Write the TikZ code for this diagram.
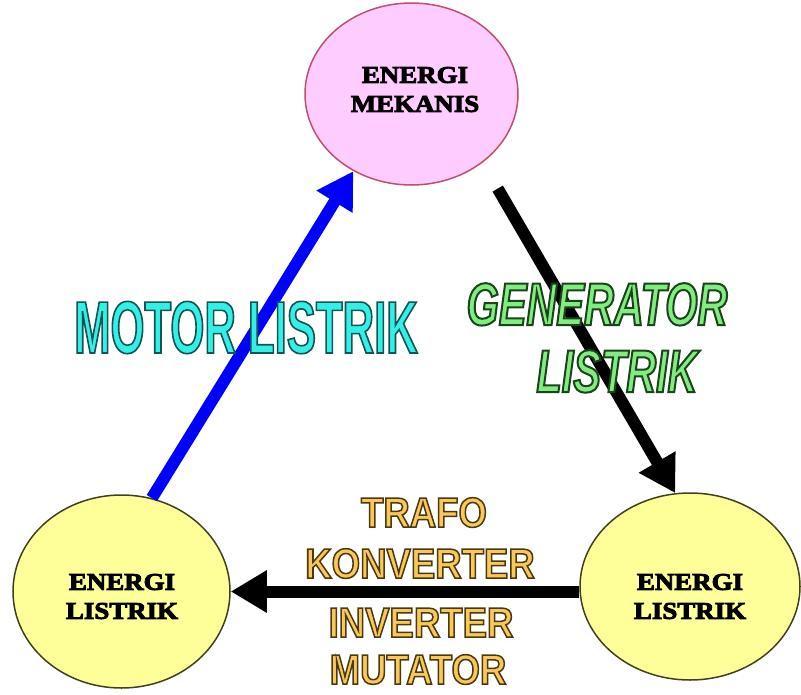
\documentclass[tikz,border=0pt]{standalone}
\usepackage{fontspec}
\usetikzlibrary{shapes.geometric}
\usetikzlibrary{arrows.meta}

\newfontfamily\energifont[FakeStretch=1.12]{Liberation Serif}
\newfontfamily\motorfont[FakeStretch=0.59]{Liberation Sans}
\newfontfamily\generatorfont[FakeStretch=0.69]{Liberation Sans}
\newfontfamily\trafofont[FakeStretch=0.87]{Liberation Sans}

\definecolor{pinkfill}{RGB}{255,204,255}
\definecolor{pinkline}{RGB}{192,80,112}
\definecolor{yellowfill}{RGB}{255,255,153}
\definecolor{yellowline}{RGB}{64,64,32}
\definecolor{motorcyan}{RGB}{50,240,230}
\definecolor{generatorgreen}{RGB}{130,235,130}
\definecolor{trafogold}{RGB}{248,200,90}

% #1 stroke colour (r g b), #2 stroke width, #3 text
\newcommand\outlined[3]{\special{pdf:code q 2 Tr #2 w #1 RG}#3\special{pdf:code Q}}

\begin{document}
\begin{tikzpicture}[x=1pt,y=-1pt]

\tikzset{my-ellipse/.style={ellipse, draw, line width=1.5pt, inner sep=0pt},
         my-energi/.style={align=center, inner sep=0pt,
                           font=\energifont\bfseries\fontsize{24}{29}\selectfont},
         my-arrow/.style={line width=12pt, -{Triangle[length=36pt,width=40pt]}},
         my-label/.style={inner sep=0pt, anchor=base}}

\useasboundingbox (0,0) rectangle (801,694);

\node (mekanis) [my-ellipse, fill=pinkfill, draw=pinkline,
                 minimum width=213pt, minimum height=182pt] at (411.5,94) {};
\node (listrikL) [my-ellipse, fill=yellowfill, draw=yellowline,
                  minimum width=217pt, minimum height=193pt] at (121.5,591.5) {};
\node (listrikR) [my-ellipse, fill=yellowfill, draw=yellowline,
                  minimum width=220pt, minimum height=187pt] at (690,586.5) {};

\node (mekanis-text) [my-energi] at (415,89.5)
  {\outlined{0 0 0}{0.9}{ENERGI}\\\outlined{0 0 0}{0.9}{MEKANIS}};
\node (listrikL-text) [my-energi] at (122,596.5)
  {\outlined{0 0 0}{0.9}{ENERGI}\\\outlined{0 0 0}{0.9}{LISTRIK}};
\node (listrikR-text) [my-energi] at (690,596.5)
  {\outlined{0 0 0}{0.9}{ENERGI}\\\outlined{0 0 0}{0.9}{LISTRIK}};

\draw [my-arrow, blue] (listrikL.72) -- (mekanis.233);
\draw [my-arrow, black, shorten <=30pt] (mekanis.316) -- (listrikR.99);
\draw [my-arrow, black] (listrikL.east -| listrikR.west) -- (listrikL.east);

\node (motor) [my-label, text=motorcyan,
               font=\motorfont\bfseries\fontsize{74}{74}\selectfont] at (246,353)
  {\outlined{0.08 0.33 0.33}{1.6}{MOTOR LISTRIK}};

\tikzset{generator-label/.style={my-label, text=generatorgreen,
         font=\generatorfont\bfseries\itshape\fontsize{60}{60}\selectfont}}
\node (generator) [generator-label] at (597,325)
  {\outlined{0.1 0.27 0.1}{2}{GENERATOR}};
\node (listrikG) [generator-label] at (617,392)
  {\outlined{0.1 0.27 0.1}{2}{LISTRIK}};

\tikzset{trafo-label/.style={my-label, text=trafogold,
         font=\trafofont\bfseries\fontsize{42}{42}\selectfont}}
\node (trafo) [trafo-label] at (424,527) {\outlined{0.3 0.22 0.05}{1.5}{TRAFO}};
\node (konverter) [trafo-label] at (420,578) {\outlined{0.3 0.22 0.05}{1.5}{KONVERTER}};
\node (inverter) [trafo-label] at (421,637) {\outlined{0.3 0.22 0.05}{1.5}{INVERTER}};
\node (mutator) [trafo-label] at (418,684) {\outlined{0.3 0.22 0.05}{1.5}{MUTATOR}};

\end{tikzpicture}
\end{document}
